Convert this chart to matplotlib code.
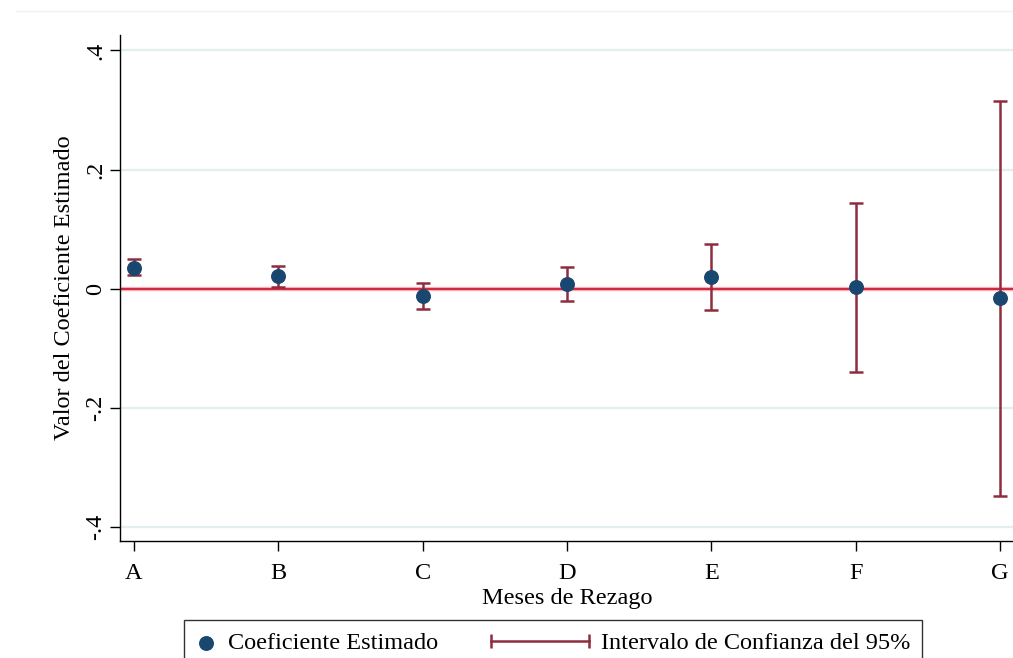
import matplotlib
matplotlib.use("Agg")
import matplotlib.pyplot as plt
from matplotlib.lines import Line2D
import numpy as np

# data
lags = ["A", "B", "C", "D", "E", "F", "G"]
coef = [0.035, 0.022, -0.012, 0.008, 0.020, 0.003, -0.016]
ci_low = [0.023, 0.003, -0.034, -0.020, -0.035, -0.139, -0.347]
ci_high = [0.050, 0.039, 0.010, 0.037, 0.075, 0.144, 0.316]
yticks = [-0.4, -0.2, 0, 0.2, 0.4]
ytick_labels = ["-.4", "-.2", "0", ".2", ".4"]

navy = "#1a476f"
ci_col = "#8f2d3e"
zero_col = "#d4283f"
grid_col = "#e2eff1"
fs = 17.5

plt.rcParams["font.family"] = ["Liberation Serif", "DejaVu Serif"]

fig = plt.figure(figsize=(10.13, 6.58), dpi=100)
ax = fig.add_axes([120/1013, 1-541/658, 894/1013, (541-35)/658])

x = np.arange(len(lags))
coef = np.array(coef)
lo = coef - np.array(ci_low)
hi = np.array(ci_high) - coef

for t in yticks:
    if t != 0:
        ax.axhline(t, color=grid_col, lw=1.6, zorder=0)
ax.axhline(0, color="#f2b8c0", lw=3.2, zorder=1)
ax.axhline(0, color=zero_col, lw=1.5, zorder=1)

ax.errorbar(x, coef, yerr=[lo, hi], fmt="none", ecolor=ci_col, elinewidth=1.8,
            capsize=5, capthick=1.8, zorder=2)
ax.scatter(x, coef, s=95, color=navy, zorder=3)

ax.set_xlim(-0.097, 6.097)
ax.set_ylim(-0.423, 0.426)
ax.set_xticks(x)
ax.set_xticklabels(lags, fontsize=fs)
ax.set_yticks(yticks)
ax.set_yticklabels(ytick_labels, fontsize=fs, rotation=90, va="center")
ax.tick_params(length=7, width=1, direction="out")
ax.tick_params(axis="x", pad=9)
ax.tick_params(axis="y", pad=3)
for s in ["top", "right"]:
    ax.spines[s].set_visible(False)
ax.spines["left"].set_linewidth(1)
ax.spines["bottom"].set_linewidth(1)

ax.set_xlabel("Meses de Rezago", fontsize=fs, labelpad=3)
ax.set_ylabel("Valor del Coeficiente Estimado", fontsize=fs, labelpad=7)

# faint line at the top of the plot region
fig.add_artist(Line2D([16/1013, 1], [1-11/658, 1-11/658], color="#eef3f5", lw=1))


class WideCI:
    def legend_artist(self, legend, orig_handle, fontsize, handlebox):
        w = 4.0*fontsize
        handlebox.width = w
        y = handlebox.height/2 - handlebox.ydescent
        ln = Line2D([0, w], [y, y], color=ci_col, lw=1.8)
        caps = Line2D([0, w], [y, y], ls="none", marker="|", ms=10, mew=1.8, color=ci_col)
        handlebox.add_artist(ln)
        handlebox.add_artist(caps)
        return ln


pt = ax.scatter([], [], s=95, color=navy)
ci = Line2D([], [], color=ci_col)
leg = fig.legend([pt, ci], ["Coeficiente Estimado", "Intervalo de Confianza del 95%"],
                 handler_map={Line2D: WideCI()}, ncol=2, fontsize=fs,
                 loc="upper left", bbox_to_anchor=(184/1013, 1-620/658),
                 borderaxespad=0, frameon=True, fancybox=False, edgecolor="black",
                 handlelength=0.8, handletextpad=0.5, columnspacing=2.2,
                 borderpad=0.5, scatterpoints=1)
leg.get_frame().set_linewidth(1)

fig.savefig("out.png", dpi=100)
